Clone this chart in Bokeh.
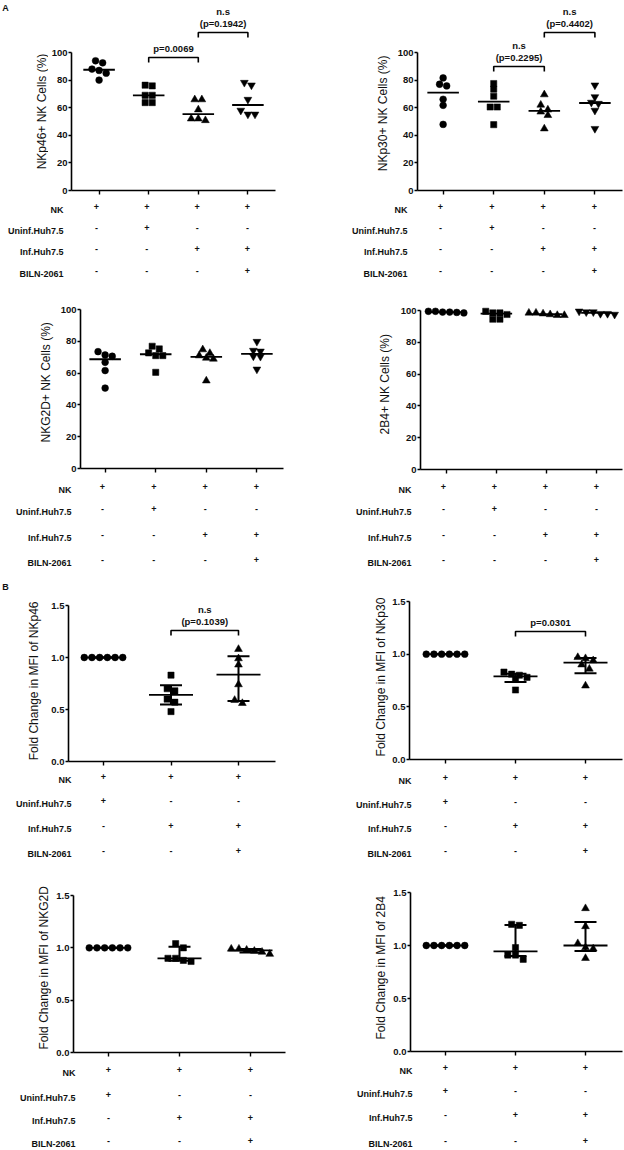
import numpy as np
from bokeh.plotting import figure
from bokeh.layouts import column, row
from bokeh.models import Range1d, FixedTicker, PrintfTickFormatter, CustomJSTickFormatter
from bokeh.core.properties import value
from bokeh.embed import file_html
from bokeh.resources import INLINE

# ---------------- data ----------------
conditions = ["NK", "Uninf.Huh7.5", "Inf.Huh7.5", "BILN-2061"]
signs_a = [["+", "+", "+", "+"],
           ["-", "+", "-", "-"],
           ["-", "-", "+", "+"],
           ["-", "-", "-", "+"]]
signs_b = [["+", "+", "+"],
           ["+", "-", "-"],
           ["-", "+", "+"],
           ["-", "-", "+"]]
markers_a = ["circle", "square", "triangle", "inverted_triangle"]
markers_b = ["circle", "square", "triangle"]

titles_a = ["NKp46+ NK Cells (%)", "NKp30+ NK Cells (%)",
            "NKG2D+ NK Cells (%)", "2B4+ NK Cells (%)"]
yticks_a = [0, 20, 40, 60, 80, 100]

nkp46_pct = [[88.0, 94.0, 92.5, 85.0, 80.0, 87.0],
             [76.3, 75.8, 69.0, 69.0, 63.7, 63.7],
             [65.9, 65.9, 58.6, 52.0, 50.8, 52.0],
             [76.3, 78.2, 65.9, 58.0, 55.2, 55.2]]
nkp30_pct = [[81.6, 75.8, 77.0, 66.1, 61.7, 47.9],
             [77.5, 73.4, 68.3, 60.5, 60.5, 47.7],
             [69.5, 62.0, 58.5, 57.0, 54.5, 44.8],
             [76.3, 67.8, 63.8, 63.0, 58.0, 44.8]]
nkg2d_pct = [[73.5, 70.6, 71.4, 66.8, 61.6, 50.6],
             [75.2, 71.0, 71.0, 72.7, 76.9, 60.5],
             [72.5, 69.5, 68.9, 71.0, 74.8, 55.2],
             [74.2, 79.8, 70.4, 70.6, 73.7, 62.4]]
b2b4_pct = [[99.0, 99.5, 98.8, 98.5, 99.0, 99.5],
            [98.5, 97.5, 94.5, 94.5, 98.5, 99.5],
            [98.5, 98.0, 97.0, 97.0, 97.5, 98.5],
            [99.0, 98.0, 97.5, 98.0, 99.0, 99.5]]

titles_b = ["Fold Change in MFI of NKp46", "Fold Change in MFI of NKp30",
            "Fold Change in MFI of NKG2D", "Fold Change in MFI of 2B4"]
yticks_b = [0.0, 0.5, 1.0, 1.5]

nkp46_mfi = [[1.00, 1.00, 1.00, 1.00, 1.00, 1.00],
             [0.83, 0.70, 0.68, 0.60, 0.57, 0.48],
             [1.08, 0.99, 0.93, 0.74, 0.59, 0.56]]
nkp30_mfi = [[1.00, 1.00, 1.00, 1.00, 1.00, 1.00],
             [0.81, 0.76, 0.78, 0.80, 0.83, 0.66],
             [0.97, 0.96, 0.94, 0.90, 0.86, 0.70]]
nkg2d_mfi = [[1.00, 1.00, 1.00, 1.00, 1.00, 1.00],
             [1.04, 1.00, 0.90, 0.90, 0.88, 0.87],
             [0.98, 0.97, 0.94, 0.96, 0.99, 0.99]]
b2b4_mfi = [[1.00, 1.00, 1.00, 1.00, 1.00, 1.00],
            [1.20, 1.19, 0.98, 0.91, 0.91, 0.87],
            [1.35, 1.18, 1.02, 0.98, 0.97, 0.88]]

# comparisons: (group i, group j, text lines)
comp_nkp46_pct = [(2, 3, ["p=0.0069"]), (3, 4, ["n.s", "(p=0.1942)"])]
comp_nkp30_pct = [(2, 3, ["n.s", "(p=0.2295)"]), (3, 4, ["n.s", "(p=0.4402)"])]
comp_nkp46_mfi = [(2, 3, ["n.s", "(p=0.1039)"])]
comp_nkp30_mfi = [(2, 3, ["p=0.0301"])]

# ---------------- layout (page pixels) ----------------
FONT = "Liberation Sans"
TXT = "#111111"
L_A1 = dict(fig=(0, 0, 312, 290), ax=68, xend=275, c1=96, cn=247, y0=190, ytop=52,
            rows=[209, 230, 251, 273], lbl=63, tx=41, ty=118, brk=[57, 32], letter=("A", 5, 8))
L_A2 = dict(fig=(312, 0, 312, 290), ax=414, xend=622, c1=440, cn=594, y0=190, ytop=52,
            rows=[209, 230, 251, 273], lbl=407, tx=382, ty=120, brk=[66, 32], letter=None)
L_A3 = dict(fig=(0, 290, 312, 290), ax=77, xend=283, c1=102, cn=256, y0=468, ytop=309,
            rows=[489, 511, 537, 562], lbl=71, tx=45, ty=388, brk=[], letter=None)
L_A4 = dict(fig=(312, 290, 312, 290), ax=417, xend=622, c1=443, cn=596, y0=469, ytop=310,
            rows=[489, 511, 537, 562], lbl=411, tx=384, ty=390, brk=[], letter=None)
L_B1 = dict(fig=(0, 580, 312, 282), ax=68, xend=275, c1=103, cn=238, y0=761, ytop=605,
            rows=[779, 803, 828, 853], lbl=71, tx=33, ty=687, brk=[630], letter=("B", 5, 587))
L_B2 = dict(fig=(312, 580, 312, 282), ax=409, xend=622, c1=445, cn=585, y0=759, ytop=601,
            rows=[780, 804, 828, 853], lbl=411, tx=380, ty=683, brk=[631], letter=None)
L_B3 = dict(fig=(0, 862, 312, 288), ax=73, xend=285, c1=108, cn=250, y0=1052, ytop=895,
            rows=[1072, 1097, 1120, 1143], lbl=75, tx=43, ty=974, brk=[], letter=None)
L_B4 = dict(fig=(312, 862, 312, 288), ax=410, xend=622, c1=445, cn=585, y0=1051, ytop=892,
            rows=[1070, 1093, 1117, 1143], lbl=412, tx=380, ty=974, brk=[], letter=None)

MSIZE = {"circle": 6.8, "square": 6.2, "triangle": 7.8, "inverted_triangle": 7.8}
AXW = 20   # width reserved for y tick labels
MB = 12    # room under the x axis for its ticks


def swarm(vals, pxy, s, d=7.5, dy=5.5):
    vals = np.asarray(vals, float)
    order = np.argsort(-vals, kind="stable")
    offs = np.zeros(len(vals))
    groups = []
    cur = [order[0]]
    for idx in order[1:]:
        if (vals[cur[0]] - vals[idx]) * pxy < dy:
            cur.append(idx)
        else:
            groups.append(cur)
            cur = [idx]
    groups.append(cur)
    for g in groups:
        k = len(g)
        for j, idx in enumerate(g):
            offs[idx] = (j - (k - 1) / 2) * d / s
    return offs


def quartiles(v):
    v = np.sort(np.asarray(v, float))
    n = len(v)

    def q(pc):
        pos = pc * (n + 1)
        lo = int(np.floor(pos))
        frac = pos - lo
        lo = min(max(lo, 1), n)
        hi = min(lo + 1, n)
        return v[lo - 1] + frac * (v[hi - 1] - v[lo - 1])
    return q(0.25), q(0.75)


def bare(**kw):
    f = figure(output_backend="svg", toolbar_location=None,
               x_axis_location=None, y_axis_location=None, **kw)
    f.grid.visible = False
    f.outline_line_color = None
    return f


def panel(L, groups, markers, signs, title, comps, yticks, fmt, iqr):
    fx, fy, W, H = L["fig"]
    n = len(groups)
    ax, xend, c1, cn, y0, ytop = L["ax"], L["xend"], L["c1"], L["cn"], L["y0"], L["ytop"]
    s = (cn - c1) / (n - 1)
    ytop_val = yticks[-1]
    pxy = (y0 - ytop) / ytop_val
    Hp = y0 - fy + MB
    Ht = H - Hp
    Wt = ax - fx - AXW
    Wp = W - Wt

    def ypx(py):
        return (y0 - py) / pxy

    def xcat(px):
        return 1 + (px - c1) / s

    # ---- main plot ----
    p = figure(width=Wp, height=Hp, x_range=Range1d(xcat(ax), xcat(xend)),
               y_range=Range1d(0, ypx(fy)),
               output_backend="svg", toolbar_location=None,
               min_border_left=AXW, min_border_right=fx + W - xend,
               min_border_top=0, min_border_bottom=MB)
    p.grid.visible = False
    p.outline_line_color = None
    p.xaxis.ticker = FixedTicker(ticks=list(range(1, n + 1)))
    p.xaxis.formatter = CustomJSTickFormatter(code="return ''")
    p.xaxis.major_label_text_font_size = "0px"
    p.xaxis.major_label_standoff = 0
    p.xaxis.major_tick_out = 4
    p.xaxis.major_tick_in = 0
    p.xaxis.minor_tick_line_color = None
    p.yaxis.ticker = FixedTicker(ticks=yticks)
    p.yaxis.bounds = (0, ytop_val)
    p.yaxis.formatter = PrintfTickFormatter(format=fmt)
    p.yaxis.major_tick_out = 3
    p.yaxis.major_tick_in = 0
    p.yaxis.minor_tick_line_color = None
    p.yaxis.major_label_text_font = FONT
    p.yaxis.major_label_text_font_style = "bold"
    p.yaxis.major_label_text_font_size = "9.5px"
    p.yaxis.major_label_text_color = TXT
    p.yaxis.major_label_standoff = 1
    for a in (p.xaxis, p.yaxis):
        a.axis_line_color = "black"
        a.axis_line_width = 1.6
        a.major_tick_line_color = "black"
        a.major_tick_line_width = 1.4

    for i, (vals, mk) in enumerate(zip(groups, markers), start=1):
        offs = swarm(vals, pxy, s, d=7.7 if iqr else 7.2)
        p.scatter(x=i + offs, y=vals, marker=mk, size=MSIZE[mk],
                  fill_color="black", line_color="black", line_width=0.5)
        med = float(np.median(vals))
        if iqr:
            q1, q3 = quartiles(vals)
            hw_m = 22 / s
            hw_c = 11 / s
            p.segment(x0=[i], y0=[q1], x1=[i], y1=[q3], line_color="black", line_width=2)
            p.segment(x0=[i - hw_c, i - hw_c], y0=[q1, q3], x1=[i + hw_c, i + hw_c],
                      y1=[q1, q3], line_color="black", line_width=2)
            p.segment(x0=[i - hw_m], y0=[med], x1=[i + hw_m], y1=[med],
                      line_color="black", line_width=1.8)
        else:
            hw_m = 16 / s
            p.segment(x0=[i - hw_m], y0=[med], x1=[i + hw_m], y1=[med],
                      line_color="black", line_width=1.8)

    tip = 5 / pxy
    for (gi, gj, lines), bpx in zip(comps, L["brk"]):
        yb = ypx(bpx)
        p.multi_line(xs=[[gi, gi, gj, gj]], ys=[[yb - tip, yb, yb, yb - tip]],
                     line_color="black", line_width=1.6)
        tx, ty, tt = [], [], []
        for k, t in enumerate(reversed(lines)):
            tx.append((gi + gj) / 2)
            ty.append(ypx(bpx - 9 - 12 * k))
            tt.append(t)
        p.text(x=tx, y=ty, text=tt, text_align="center", text_baseline="middle",
               text_font=value(FONT), text_font_style="bold",
               text_font_size="9.5px", text_color=TXT)

    # ---- y title strip (page-pixel coordinates) ----
    t = bare(width=Wt, height=Hp, x_range=Range1d(fx, fx + Wt), y_range=Range1d(fy + Hp, fy),
             min_border_left=0, min_border_right=0, min_border_top=0, min_border_bottom=0)
    t.text(x=[L["tx"]], y=[L["ty"]], text=[title], angle=np.pi / 2,
           text_align="center", text_baseline="middle",
           text_font=value(FONT), text_font_size="12px", text_color=TXT)
    if L["letter"]:
        lt, lx, ly = L["letter"]
        t.text(x=[lx], y=[ly], text=[lt], text_align="center", text_baseline="middle",
               text_font=value(FONT), text_font_style="bold", text_font_size="9px",
               text_color=TXT)

    # ---- condition table (shares category positions) ----
    tb = bare(width=W, height=Ht, x_range=Range1d(xcat(fx), xcat(fx + W)),
              y_range=Range1d(fy + H, fy + Hp),
              min_border_left=0, min_border_right=0, min_border_top=0, min_border_bottom=0)
    tb.text(x=[xcat(L["lbl"])] * len(conditions), y=L["rows"], text=conditions,
            text_align="right", text_baseline="middle", text_font=value(FONT),
            text_font_style="bold", text_font_size="9px", text_color=TXT)
    sx, sy, st = [], [], []
    for r, rpx in enumerate(L["rows"]):
        for i in range(n):
            sx.append(i + 1)
            sy.append(rpx - 3)
            st.append(signs[r][i])
    tb.text(x=sx, y=sy, text=st, text_align="center", text_baseline="middle",
            text_font=value(FONT), text_font_style="bold", text_font_size="9px",
            text_color=TXT)

    return column(row(t, p), tb)


pA1 = panel(L_A1, nkp46_pct, markers_a, signs_a, titles_a[0], comp_nkp46_pct, yticks_a, "%d", False)
pA2 = panel(L_A2, nkp30_pct, markers_a, signs_a, titles_a[1], comp_nkp30_pct, yticks_a, "%d", False)
pA3 = panel(L_A3, nkg2d_pct, markers_a, signs_a, titles_a[2], [], yticks_a, "%d", False)
pA4 = panel(L_A4, b2b4_pct, markers_a, signs_a, titles_a[3], [], yticks_a, "%d", False)
pB1 = panel(L_B1, nkp46_mfi, markers_b, signs_b, titles_b[0], comp_nkp46_mfi, yticks_b, "%.1f", True)
pB2 = panel(L_B2, nkp30_mfi, markers_b, signs_b, titles_b[1], comp_nkp30_mfi, yticks_b, "%.1f", True)
pB3 = panel(L_B3, nkg2d_mfi, markers_b, signs_b, titles_b[2], [], yticks_b, "%.1f", True)
pB4 = panel(L_B4, b2b4_mfi, markers_b, signs_b, titles_b[3], [], yticks_b, "%.1f", True)

layout = column(row(pA1, pA2), row(pA3, pA4), row(pB1, pB2), row(pB3, pB4))
open("out.html", "w").write(file_html(layout, INLINE))
